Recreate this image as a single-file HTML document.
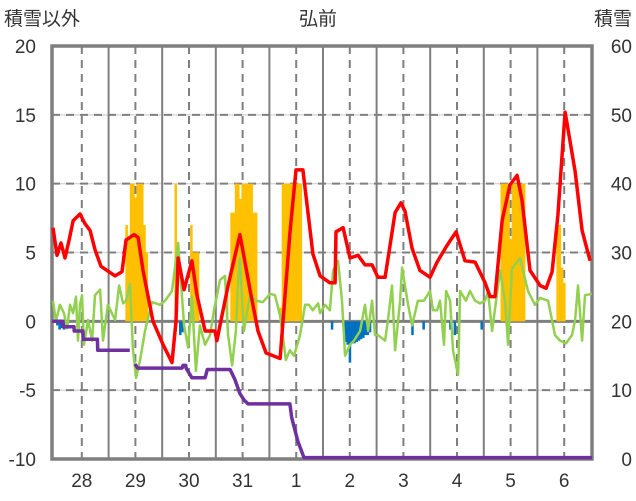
<!DOCTYPE html>
<html><head><meta charset="utf-8"><style>
html,body{margin:0;padding:0;background:#fff;width:636px;height:501px;overflow:hidden}
svg{display:block;font-family:"Liberation Sans","Noto Sans CJK JP",sans-serif}
</style></head><body>
<svg id="chart" width="636" height="501" viewBox="0 0 636 501">
<g id="grid"></g>
<g id="bars"></g>
<g id="axes"></g>
<g id="lines"></g>
<text x="4" y="25" font-size="19" fill="#333">積雪以外</text>
<text x="318" y="25" font-size="19" fill="#333" text-anchor="middle">弘前</text>
<text x="632" y="25" font-size="19" fill="#333" text-anchor="end">積雪</text>
</svg>
<script>
const dayLabels=["28","29","30","31","1","2","3","4","5","6"];
const leftTicks=[20,15,10,5,0,-5,-10];
const rightTicks=[60,50,40,30,20,10,0];
const redHours=[-0.9,0.9,2.7,4.5,6.3,8.1,11.2,13.4,15.7,17.9,20.6,23.3,26.9,30,31.8,35.4,37.2,39.4,43.9,48.4,52.4,54.2,55.1,57.8,61.3,63.6,67.2,71.6,72.5,77.5,82.8,87.3,90.9,94.5,100.8,105.2,107.9,111,115.5,118.7,123.1,125.4,125.8,129,132.1,135.7,138.8,142,144.6,147.8,152.3,154.9,156.7,159.9,163.4,167.9,171.1,175.5,179.6,183.6,188.1,192.6,194.8,197,200.2,203.7,206.9,209.1,212.7,217.2,219.9,222.6,225.2,228.4,230.6,232.9,236,239.6];
const redValues=[6.8,4.8,5.7,4.6,5.9,7.3,7.8,7.1,6.6,5.2,4.0,3.7,3.3,3.6,5.9,6.3,6.1,3.7,0,-1.7,-3.0,0,4.6,2.3,4.4,1.9,-0.7,-0.7,-1.4,2.6,6.3,2.3,-0.7,-2.3,-2.7,6.4,11.0,11.0,4.9,3.3,2.8,2.8,6.5,6.8,4.6,4.8,4.1,4.1,3.2,3.2,7.9,8.6,8.0,5.3,3.7,3.2,4.3,5.5,6.5,4.4,4.3,2.8,1.8,1.8,7.3,9.9,10.6,8.8,3.7,2.6,2.4,3.6,7.7,15.2,13.1,10.9,6.6,4.4];
const greenHours=[-0.9,0.4,2.2,4.0,5.4,6.7,8.1,9.4,10.3,11.2,12.1,13,14.8,16.6,17.9,20.2,21.5,23.7,26.9,28.7,30.5,31.8,33.6,34.9,36.3,38.1,40.3,43.4,45.2,47,49.3,52.4,55.1,57.8,59.6,61.3,63.1,64.9,67.2,69.4,71.2,73.9,76.1,77.5,79.3,81,82,82.8,84.6,87.3,90,93.1,96.3,98.5,100.8,103.4,105.2,107,109.7,112,113.7,115.5,117.8,118.7,120.9,123.1,124.5,126.7,128.5,129.9,132.1,133.9,136.6,138.8,140.2,142,143.3,144.6,147.8,149.1,150.9,152.3,154.5,155.4,158.1,159.9,162.5,165.2,167.9,169.3,171.1,172.4,174.2,175.1,176.9,178.2,180.5,181.4,184,185.8,188.1,190.3,192.6,193.9,195.7,197.5,199.3,201.5,202.9,204.6,208.2,211.8,214.9,217.2,220.8,223.9,226.1,228.8,231.5,232.9,234.2,236,237.3,240.4];
const greenValues=[1.5,0,1.2,0.6,-0.5,1.2,0.6,1.8,-1.4,1.2,1.9,-1.7,0.1,-1.4,1.9,2.3,-1.4,1.2,0.1,2.6,1.3,1.5,2.7,-2,-4.1,-2.8,-0.7,1.4,1.3,1.2,1.5,2.2,5.7,-0.3,-1.9,1.8,-3.6,-0.3,-1.7,-1,0.8,3.0,3.3,-1,-3.2,-0.7,2.9,4.6,-0.7,1.9,1.5,1.4,2.0,1.9,0.4,-2.8,-2.1,-2.5,-1,1.2,1.2,0.8,1.3,0.6,1.2,0.8,3.7,4.4,1.5,-2.5,-1.7,-1.4,-0.7,1.2,-0.7,1.5,-1,-1,-1.4,0.1,2.6,-2.1,1.5,3.9,1.2,-0.3,1.5,1.5,2.2,0.8,0.8,1.5,-1.7,2.2,1.5,-2.1,-3.9,2.2,1.5,2.2,1.5,1.3,1.5,2.2,-0.7,1.5,3.7,1.5,-1.7,3.8,4.6,2.2,1.2,1.7,1.5,-1,-1.4,-1.6,-1,0.1,2.6,-1.4,1.9,2.0];
const snowHours=[-1.3,3.6,3.7,8.5,8.6,12.5,12.6,19,19.1,33.5,null,35.8,37,56.9,57.3,58.5,58.7,61.3,67.2,68.2,78.4,80.6,82.8,84.6,86.4,105.2,106,108.8,111.5,240.5];
const snowDepth=[20,20,19.2,19.2,18.6,18.6,17.4,17.4,15.8,15.8,null,13.8,13.2,13.2,13.6,13.6,13.2,11.8,11.8,13,13,11.5,9.5,8.6,8,8,6,2.5,0.2,0.2];
const orangeHours=[32,33,34,35,36,37,38,39,40,41,54,61,62,63,64,77,79,80,81,82,83,84,85,86,87,88,89,90,101,102,103,104,105,106,107,108,109,110,200,201,202,203,204,205,206,207,208,209,210,225,226,227,228];
const orangeValues=[7,6,10,10,9,10,10,10,7,5,10,7,5,5,5,2,7.9,7.9,10,10,8.9,10,10,10,10,10,7.9,7.9,1,10,10,10,10,10,10,10,10,10,10,10,10,10,6,10,10,10,10,10,10,7,7,3.9,2.8];
const blueHours=[1,2,3,4,56,57,124,130,131,132,133,134,135,136,137,138,139,140,141,160,165,177,179,191];
const blueValues=[-0.3,-0.6,-0.5,-0.6,-1,-0.8,-0.6,-1.5,-1.7,-3,-1.6,-1.6,-1.5,-1.4,-1.3,-1.2,-1,-1,-0.8,-1,-0.6,-0.6,-1,-0.6];

const NS="http://www.w3.org/2000/svg";
const L=52,R=592,T=46,B=459;
const hw=53.6/24;
function xs(h){return 55+h*hw;}
function yl(v){return B-(v+10)/30*(B-T);}
function yr(v){return B-v/60*(B-T);}
function mk(tag,attrs,parent){const e=document.createElementNS(NS,tag);for(const k in attrs)e.setAttribute(k,attrs[k]);parent.appendChild(e);return e;}
const grid=document.getElementById('grid'),bars=document.getElementById('bars'),lines=document.getElementById('lines'),axes=document.getElementById('axes');

leftTicks.forEach(v=>{
  if(v===20||v===-10||v===0)return;
  const g=mk('line',{x1:L,x2:R,y1:yl(v),y2:yl(v),stroke:'#d9d9d9','stroke-width':1.5},grid);
  
  
  const d=mk('line',{x1:L,x2:R,y1:yl(v),y2:yl(v),stroke:'#7f7f7f','stroke-width':2,'stroke-dasharray':'8,6'},grid);
  
  
});
dayLabels.forEach((lab,i)=>{
  const xm=xs(i*24+12);
  const d=mk('line',{x1:xm,x2:xm,y1:T,y2:B,stroke:'#7f7f7f','stroke-width':2,'stroke-dasharray':'8,6'},grid);
  
  
  if(i>0){
    const xb=xs(i*24);
    const s=mk('line',{x1:xb,x2:xb,y1:T,y2:B,stroke:'#7f7f7f','stroke-width':2},grid);
    
    
  }
  const t=mk('text',{x:xm,y:487,'font-size':19,'text-anchor':'middle',fill:'#333'},axes);
  t.textContent=lab;
  
  
});

orangeHours.forEach((h,i)=>{
  const v=orangeValues[i];
  const r=mk('rect',{x:xs(h)-hw/2,y:yl(v),width:hw+0.3,height:yl(0)-yl(v),fill:'#ffc000'},bars);
  
  
});
blueHours.forEach((h,i)=>{
  const v=blueValues[i];
  const r=mk('rect',{x:xs(h)-hw/2,y:yl(0),width:hw+0.3,height:yl(v)-yl(0),fill:'#0070c0'},bars);
  
  
});

const zl=mk('line',{x1:L,x2:R,y1:yl(0),y2:yl(0),stroke:'#7f7f7f','stroke-width':3},grid);



const fr=mk('rect',{x:L,y:T,width:R-L,height:B-T,fill:'none',stroke:'#7f7f7f','stroke-width':3.5},axes);



function path(hs,vs,yf){let d='',pen=false;hs.forEach((h,i)=>{if(h===null||vs[i]===null){pen=false;return;}d+=(pen?'L':'M')+xs(h).toFixed(1)+','+yf(vs[i]).toFixed(1);pen=true;});return d;}
const gp=mk('path',{d:path(greenHours,greenValues,yl),fill:'none',stroke:'#92d050','stroke-width':2.5,'stroke-linejoin':'round'},lines);


const pp=mk('path',{d:path(snowHours,snowDepth,yr),fill:'none',stroke:'#7030a0','stroke-width':3.5,'stroke-linejoin':'round'},lines);


const rp=mk('path',{d:path(redHours,redValues,yl),fill:'none',stroke:'#ff0000','stroke-width':3.5,'stroke-linejoin':'round'},lines);



leftTicks.forEach(v=>{
  const t=mk('text',{x:36,y:yl(v)+7,'font-size':19,'text-anchor':'end',fill:'#333'},axes);
  t.textContent=v;
  
  
});
rightTicks.forEach(v=>{
  const t=mk('text',{x:632,y:yr(v)+7,'font-size':19,'text-anchor':'end',fill:'#333'},axes);
  t.textContent=v;
  
  
});
</script>
</body></html>
